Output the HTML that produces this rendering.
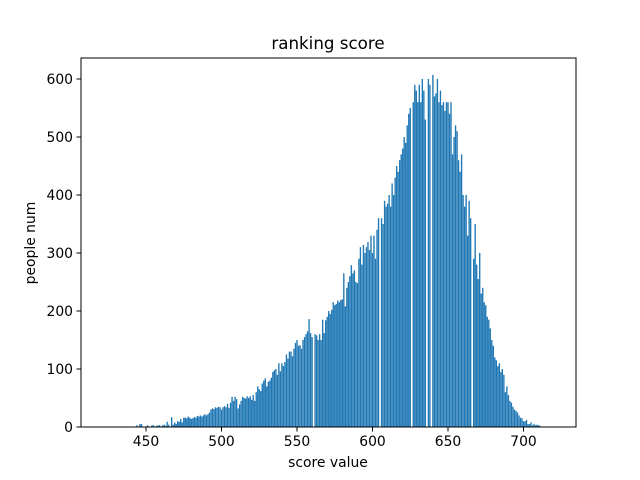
<!DOCTYPE html>
<html><head><meta charset="utf-8"><style>
body{margin:0;background:#fff;}
svg{display:block;font-family:"DejaVu Sans","Liberation Sans",sans-serif;}
</style></head><body>
<svg id="chart" width="640" height="480" viewBox="0 0 640 480" xmlns="http://www.w3.org/2000/svg">
<rect width="640" height="480" fill="#fff"/>
<g id="bars"></g>
<g id="axes"></g>
<text x="328" y="49" font-size="16.7" text-anchor="middle">ranking score</text>
<text x="328" y="467" font-size="13.9" text-anchor="middle">score value</text>
<text x="0" y="0" font-size="13.9" text-anchor="middle" transform="translate(35,243) rotate(-90)">people num</text>
</svg>
<script>
const startScore = 420;
const counts = [
0,0,0,0,0,0,0,0,0,0,
0,0,0,0,0,0,0,1,0,0,
0,0,0,0,3,0,5,5,0,0,
0,3,0,0,3,3,0,2,3,3,
0,3,4,2,9,4,0,17,4,8,
5,10,9,14,8,16,16,15,18,16,
14,15,17,16,19,18,20,18,20,22,
20,22,25,30,32,31,34,33,35,34,
30,34,36,34,40,33,42,52,45,52,
48,32,39,45,52,50,49,53,50,53,
47,55,45,60,70,65,62,75,80,84,
70,78,80,85,95,98,100,90,110,96,
110,105,112,125,118,130,130,122,135,145,
150,140,141,135,150,155,160,165,186,162,
155,0,160,158,150,160,150,185,162,184,
190,200,195,202,215,210,212,218,215,219,
220,265,208,240,250,260,279,265,270,250,
248,290,310,280,314,300,310,319,305,330,
300,330,290,340,360,0,360,350,390,380,
385,400,380,420,400,430,450,440,460,470,
480,500,490,520,540,550,0,560,590,580,
560,590,560,600,580,530,0,600,590,0,
607,570,575,600,560,580,555,560,545,560,
560,540,560,470,500,520,510,460,440,470,
400,380,400,330,390,360,0,290,350,280,
255,300,230,240,215,210,190,185,170,150,
140,120,115,105,110,95,100,90,60,70,
55,45,42,35,30,28,25,20,16,15,
10,10,12,5,5,8,3,5,3,4,
3,2,0,0,0,0
];
const xTicks = [450,500,550,600,650,700];
const yTicks = [0,100,200,300,400,500,600];

const L=81,R=576,T=58,B=427;
function xs(v){return 146+(v-450)*1.51;}
function ys(v){return 427-v*0.58;}
const NS="http://www.w3.org/2000/svg";
const bars=document.getElementById('bars');
const axes=document.getElementById('axes');
const bw=0.9*1.51;
counts.forEach((c,i)=>{
  if(c<=0) return;
  const s=startScore+i;
  const r=document.createElementNS(NS,'rect');
  
  
  r.setAttribute('x',(xs(s)-bw/2).toFixed(2));
  r.setAttribute('y',ys(c).toFixed(2));
  r.setAttribute('width',bw.toFixed(2));
  r.setAttribute('height',(B-ys(c)).toFixed(2));
  r.setAttribute('fill','#1f77b4');
  bars.appendChild(r);
});
const frame=document.createElementNS(NS,'rect');


frame.setAttribute('x',L);frame.setAttribute('y',T);
frame.setAttribute('width',R-L);frame.setAttribute('height',B-T);
frame.setAttribute('fill','none');frame.setAttribute('stroke','#000');frame.setAttribute('stroke-width','1');
axes.appendChild(frame);
xTicks.forEach(t=>{
  const x=xs(t);
  const l=document.createElementNS(NS,'line');
  
  
  l.setAttribute('x1',x);l.setAttribute('x2',x);l.setAttribute('y1',B);l.setAttribute('y2',B+4.5);
  l.setAttribute('stroke','#000');
  axes.appendChild(l);
  const tx=document.createElementNS(NS,'text');
  
  
  tx.setAttribute('x',x);tx.setAttribute('y',B+19);
  tx.setAttribute('font-size','13.9');tx.setAttribute('text-anchor','middle');
  tx.textContent=t;
  axes.appendChild(tx);
});
yTicks.forEach(t=>{
  const y=ys(t);
  const l=document.createElementNS(NS,'line');
  
  
  l.setAttribute('x1',L-4.5);l.setAttribute('x2',L);l.setAttribute('y1',y);l.setAttribute('y2',y);
  l.setAttribute('stroke','#000');
  axes.appendChild(l);
  const tx=document.createElementNS(NS,'text');
  
  
  tx.setAttribute('x',L-8);tx.setAttribute('y',y+5);
  tx.setAttribute('font-size','13.9');tx.setAttribute('text-anchor','end');
  tx.textContent=t;
  axes.appendChild(tx);
});
</script>
</body></html>
